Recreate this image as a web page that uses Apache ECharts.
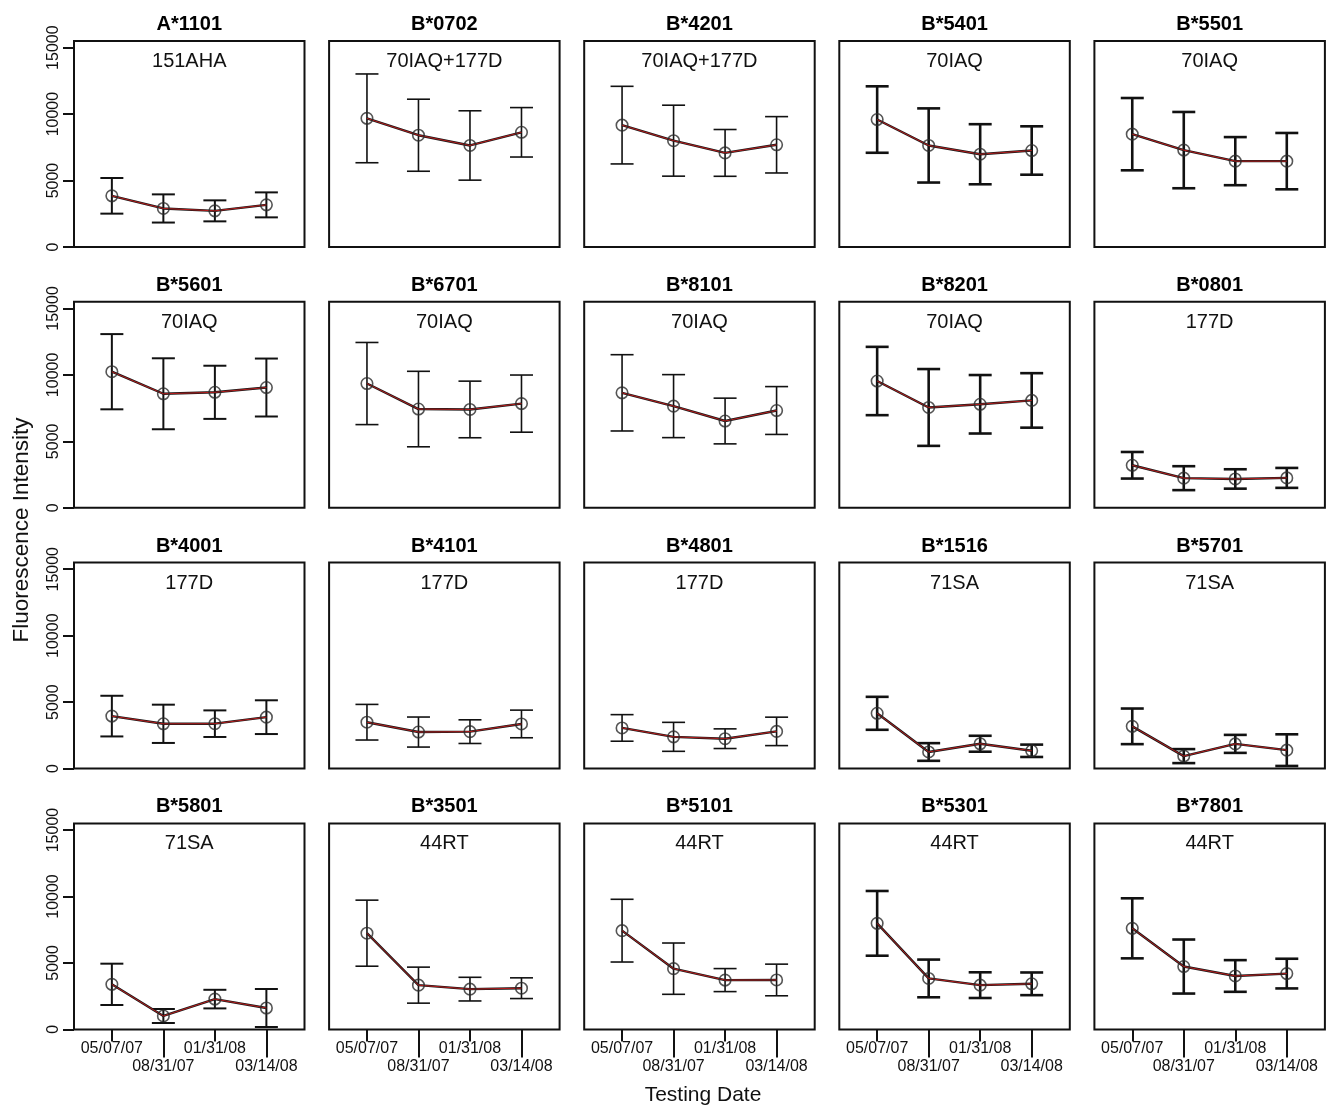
<!DOCTYPE html>
<html><head><meta charset="utf-8">
<script src="https://cdn.jsdelivr.net/npm/echarts@6/dist/echarts.min.js"></script>
<style>html,body{margin:0;padding:0;background:#fff}#c{width:1328px;height:1108px}</style>
</head><body><div id="c"></div>
<script>
// ---- data ----
const dates = ['05/07/07', '08/31/07', '01/31/08', '03/14/08'];
const alleles = ['A*1101','B*0702','B*4201','B*5401','B*5501',
                 'B*5601','B*6701','B*8101','B*8201','B*0801',
                 'B*4001','B*4101','B*4801','B*1516','B*5701',
                 'B*5801','B*3501','B*5101','B*5301','B*7801'];
const epitopes = ['151AHA','70IAQ+177D','70IAQ+177D','70IAQ','70IAQ',
                  '70IAQ','70IAQ','70IAQ','70IAQ','177D',
                  '177D','177D','177D','71SA','71SA',
                  '71SA','44RT','44RT','44RT','44RT'];
const means = [
  [3850, 2900, 2720, 3170],
  [9680, 8410, 7640, 8630],
  [9170, 8000, 7080, 7690],
  [9590, 7640, 6980, 7260],
  [8490, 7290, 6460, 6460],
  [10240, 8580, 8690, 9050],
  [9350, 7430, 7400, 7840],
  [8650, 7650, 6530, 7320],
  [9540, 7550, 7790, 8080],
  [3200, 2230, 2170, 2250],
  [3950, 3370, 3380, 3870],
  [3490, 2750, 2780, 3360],
  [3060, 2390, 2250, 2800],
  [4160, 1250, 1870, 1340],
  [3180, 940, 1860, 1390],
  [3390, 1010, 2280, 1610],
  [7240, 3330, 3030, 3100],
  [7430, 4570, 3710, 3720],
  [7980, 3835, 3330, 3430],
  [7605, 4730, 4020, 4200]
];
const sds = [
  [1340, 1060, 790, 940],
  [3340, 2710, 2610, 1860],
  [2920, 2670, 1760, 2120],
  [2500, 2790, 2260, 1820],
  [2720, 2870, 1810, 2120],
  [2830, 2670, 2000, 2180],
  [3090, 2840, 2130, 2150],
  [2870, 2370, 1720, 1800],
  [2570, 2890, 2200, 2050],
  [1000, 900, 730, 750],
  [1530, 1440, 1000, 1270],
  [1340, 1130, 890, 1040],
  [1000, 1090, 740, 1070],
  [1240, 665, 600, 465],
  [1340, 527, 677, 1190],
  [1555, 527, 700, 1430],
  [2485, 1355, 890, 780],
  [2360, 1930, 866, 1190],
  [2435, 1418, 967, 853],
  [2259, 2033, 1192, 1117]
];
const yTicks = [0, 5000, 10000, 15000];
const xTicksUpper = [1, 3];
const xTicksLower = [2, 4];

// ---- layout / style ----
const FONT = '"Liberation Sans", Arial, sans-serif';
const NCOL = 5, NROW = 4;
const L0 = 74, COLSTEP = 255.1, W = 230.5, T0 = 41, ROWSTEP = 260.8, H = 206;
const XMIN = 0.265, XMAX = 4.74, YMAX = 15500;
const barW = [2, 1.6, 1.6, 2.6, 2.6];
const CAP = 11.5;

const grids = [], xAxes = [], yAxes = [], series = [], graphics = [];
const labelStyle = {fontSize: 16, color: '#111', fontFamily: FONT};

alleles.forEach((name, i) => {
  const r = Math.floor(i / NCOL), c = i % NCOL;
  const left = L0 + c * COLSTEP, top = T0 + r * ROWSTEP;
  const bottomRow = r === NROW - 1;
  const bw = barW[c];
  grids.push({left, top, width: W, height: H, show: true, borderColor: '#111', borderWidth: 2, backgroundColor: 'transparent', containLabel: false});
  const xi = xAxes.length;
  xAxes.push({
    gridIndex: i, type: 'value', min: XMIN, max: XMAX, position: 'bottom', show: bottomRow,
    axisLine: {show: false}, splitLine: {show: false},
    axisTick: {show: bottomRow, customValues: xTicksUpper, length: 12, lineStyle: {color: '#111', width: 2}},
    axisLabel: Object.assign({show: bottomRow, customValues: xTicksUpper, margin: 11.5,
      formatter: v => dates[Math.round(v) - 1]}, labelStyle)
  });
  if (bottomRow) {
    xAxes.push({
      gridIndex: i, type: 'value', min: XMIN, max: XMAX, position: 'bottom', offset: 0,
      axisLine: {show: false}, splitLine: {show: false},
      axisTick: {show: true, customValues: xTicksLower, length: 28, lineStyle: {color: '#111', width: 2}},
      axisLabel: Object.assign({show: true, customValues: xTicksLower, margin: 29.5,
        formatter: v => dates[Math.round(v) - 1]}, labelStyle)
    });
  }
  yAxes.push({
    gridIndex: i, type: 'value', min: 0, max: YMAX, show: c === 0,
    axisLine: {show: false}, splitLine: {show: false},
    axisTick: {show: c === 0, customValues: yTicks, length: 11, lineStyle: {color: '#111', width: 2}},
    axisLabel: Object.assign({show: c === 0, customValues: yTicks, rotate: 90, margin: 12,
      formatter: v => String(v)}, labelStyle)
  });

  const pts = means[i].map((m, k) => [k + 1, m]);
  series.push({
    type: 'custom', xAxisIndex: xi, yAxisIndex: i, silent: true, z: 2,
    data: means[i].map((m, k) => [k + 1, m - sds[i][k], m + sds[i][k]]),
    encode: {x: 0, y: [1, 2]},
    renderItem: (params, api) => {
      const x = api.value(0);
      const lo = api.coord([x, api.value(1)]);
      const hi = api.coord([x, api.value(2)]);
      const st = {stroke: '#111', lineWidth: bw};
      return {type: 'group', children: [
        {type: 'line', shape: {x1: lo[0], y1: lo[1], x2: hi[0], y2: hi[1]}, style: st},
        {type: 'line', shape: {x1: lo[0] - CAP, y1: lo[1], x2: lo[0] + CAP, y2: lo[1]}, style: st},
        {type: 'line', shape: {x1: hi[0] - CAP, y1: hi[1], x2: hi[0] + CAP, y2: hi[1]}, style: st}
      ]};
    }
  });
  series.push({type: 'line', xAxisIndex: xi, yAxisIndex: i, data: pts, showSymbol: false, silent: true, z: 3,
    lineStyle: {color: '#1a1a1a', width: 2.4}});
  series.push({type: 'line', xAxisIndex: xi, yAxisIndex: i, data: pts, showSymbol: false, silent: true, z: 4,
    lineStyle: {color: '#b71c1c', width: 1}});
  series.push({type: 'scatter', xAxisIndex: xi, yAxisIndex: i, data: pts, symbol: 'circle', symbolSize: 11.5, silent: true, z: 5,
    itemStyle: {color: 'rgba(0,0,0,0)', borderColor: '#2a2a2a', borderWidth: 1.6}});

  graphics.push({type: 'text', x: left + W / 2, y: top - 16.5, silent: true,
    style: {text: name, fontSize: 20, fontWeight: 'bold', fontFamily: FONT, fill: '#000', align: 'center', verticalAlign: 'middle'}});
  graphics.push({type: 'text', x: left + W / 2, y: top + 20.5, silent: true,
    style: {text: epitopes[i], fontSize: 20, fontFamily: FONT, fill: '#111', align: 'center', verticalAlign: 'middle'}});
});

graphics.push({type: 'text', x: 22, y: 530, rotation: Math.PI / 2, silent: true,
  style: {text: 'Fluorescence Intensity', fontSize: 22.5, fontFamily: FONT, fill: '#111', align: 'center', verticalAlign: 'middle'}});
graphics.push({type: 'text', x: 703, y: 1095, silent: true,
  style: {text: 'Testing Date', fontSize: 21, fontFamily: FONT, fill: '#111', align: 'center', verticalAlign: 'middle'}});

const chart = echarts.init(document.getElementById('c'), null, {renderer: 'canvas'});
chart.setOption({
  animation: false,
  backgroundColor: '#fff',
  grid: grids, xAxis: xAxes, yAxis: yAxes, series,
  graphic: graphics
});
</script>
</body></html>
